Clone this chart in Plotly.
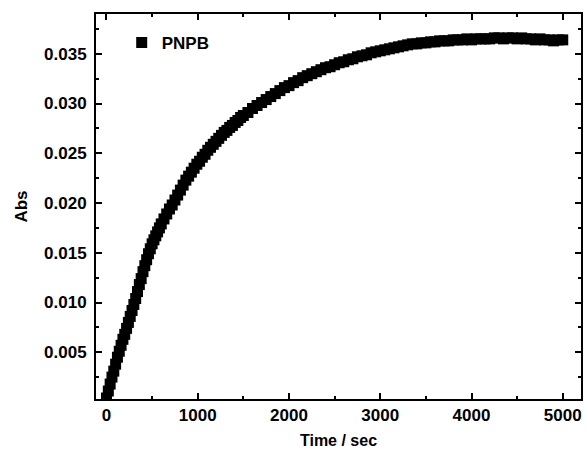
import plotly.graph_objects as go

time_sec = [0, 20, 40, 60, 80, 100, 120, 140, 160, 180, 200, 220, 240, 260, 280, 300,
            320, 340, 360, 380, 400, 420, 440, 460, 480, 500, 520, 540, 560, 580, 600,
            630, 660, 690, 720, 750, 780, 810, 840, 870, 900, 930, 960, 990, 1020, 1050,
            1080, 1110, 1140, 1170, 1200, 1230, 1260, 1290, 1320, 1350, 1380, 1410, 1440,
            1470, 1500, 1550, 1600, 1650, 1700, 1750, 1800, 1850, 1900, 1950, 2000, 2050,
            2100, 2150, 2200, 2250, 2300, 2350, 2400, 2450, 2500, 2550, 2600, 2650, 2700,
            2750, 2800, 2850, 2900, 2950, 3000, 3050, 3100, 3150, 3200, 3250, 3300, 3350,
            3400, 3450, 3500, 3550, 3600, 3650, 3700, 3750, 3800, 3850, 3900, 3950, 4000,
            4050, 4100, 4150, 4200, 4250, 4300, 4350, 4400, 4450, 4500, 4550, 4600, 4650,
            4700, 4750, 4800, 4850, 4900, 4950, 5000]

abs_pnpb = [0.0004, 0.0011, 0.0018, 0.0025, 0.0031, 0.0038, 0.0045, 0.0051, 0.0057, 0.0063,
            0.0068, 0.0074, 0.0080, 0.0086, 0.0092, 0.0098, 0.0104, 0.0111, 0.0118, 0.0124,
            0.0131, 0.0137, 0.0143, 0.0149, 0.0154, 0.0159, 0.0163, 0.0167, 0.0171, 0.0175,
            0.0179, 0.0184, 0.0189, 0.0194, 0.0198, 0.0203, 0.0208, 0.0213, 0.0218, 0.0223,
            0.0227, 0.0231, 0.0235, 0.0239, 0.0242, 0.0246, 0.0249, 0.0253, 0.0256, 0.0259,
            0.0262, 0.0265, 0.0268, 0.0271, 0.0273, 0.0276, 0.0278, 0.0281, 0.0283, 0.0286,
            0.0288, 0.0291, 0.0295, 0.0298, 0.0301, 0.0304, 0.0307, 0.0310, 0.0313, 0.0316,
            0.0318, 0.0321, 0.0323, 0.0326, 0.0328, 0.0330, 0.0332, 0.0334, 0.0336, 0.0337,
            0.0339, 0.0341, 0.0342, 0.0344, 0.0345, 0.0347, 0.0348, 0.0349, 0.0351, 0.0352,
            0.0353, 0.0354, 0.0355, 0.0356, 0.0357, 0.0358, 0.0359, 0.0360, 0.0360, 0.0361,
            0.0361, 0.0362, 0.0362, 0.0363, 0.0363, 0.0363, 0.0364, 0.0364, 0.0364, 0.0365,
            0.0364, 0.0365, 0.0365, 0.0365, 0.0365, 0.0366, 0.0366, 0.0365, 0.0366, 0.0366,
            0.0365, 0.0366, 0.0365, 0.0365, 0.0364, 0.0365, 0.0364, 0.0364, 0.0363, 0.0364,
            0.0364]

x_ticks = [0, 1000, 2000, 3000, 4000, 5000]
y_ticks = [0.005, 0.010, 0.015, 0.020, 0.025, 0.030, 0.035]
y_tick_labels = ["0.005", "0.010", "0.015", "0.020", "0.025", "0.030", "0.035"]

FONT = "Liberation Sans, Arial, sans-serif"

fig = go.Figure()
fig.add_trace(go.Scatter(
    x=time_sec, y=abs_pnpb, mode="markers", name="PNPB",
    marker=dict(symbol="square", size=11, color="black", line=dict(width=0)),
))

axis_common = dict(
    showline=True, linecolor="black", linewidth=2, mirror="allticks",
    ticks="inside", ticklen=6, tickwidth=2, tickcolor="black",
    showgrid=False, zeroline=False,
    tickfont=dict(family=FONT, size=17, color="black", weight="bold"),
)

fig.update_xaxes(
    range=[-115, 5200], tickvals=x_ticks,
    minor=dict(dtick=500, tick0=0, ticks="inside", ticklen=3, tickwidth=2, tickcolor="black"),
    title=dict(text="Time / sec", font=dict(family=FONT, size=16, color="black", weight="bold"),
               standoff=10),
    **axis_common,
)
fig.update_yaxes(
    range=[0.0003, 0.039], tickvals=y_ticks, ticktext=y_tick_labels,
    minor=dict(dtick=0.0025, tick0=0.0025, ticks="inside", ticklen=3, tickwidth=2, tickcolor="black"),
    title=dict(text="Abs", font=dict(family=FONT, size=17, color="black", weight="bold"),
               standoff=12),
    ticklabelstandoff=4,
    **axis_common,
)

fig.update_layout(
    width=586, height=450,
    margin=dict(l=96, r=3, t=14, b=51),
    paper_bgcolor="white", plot_bgcolor="white",
    showlegend=True,
    legend=dict(x=0.053, y=0.925, xanchor="left", yanchor="middle",
                bgcolor="rgba(0,0,0,0)",
                font=dict(family=FONT, size=17, color="black", weight="bold")),
)

fig.write_html("out.html", config={"displayModeBar": False},
               post_script="document.body.style.margin='0';document.body.style.overflow='hidden';")
